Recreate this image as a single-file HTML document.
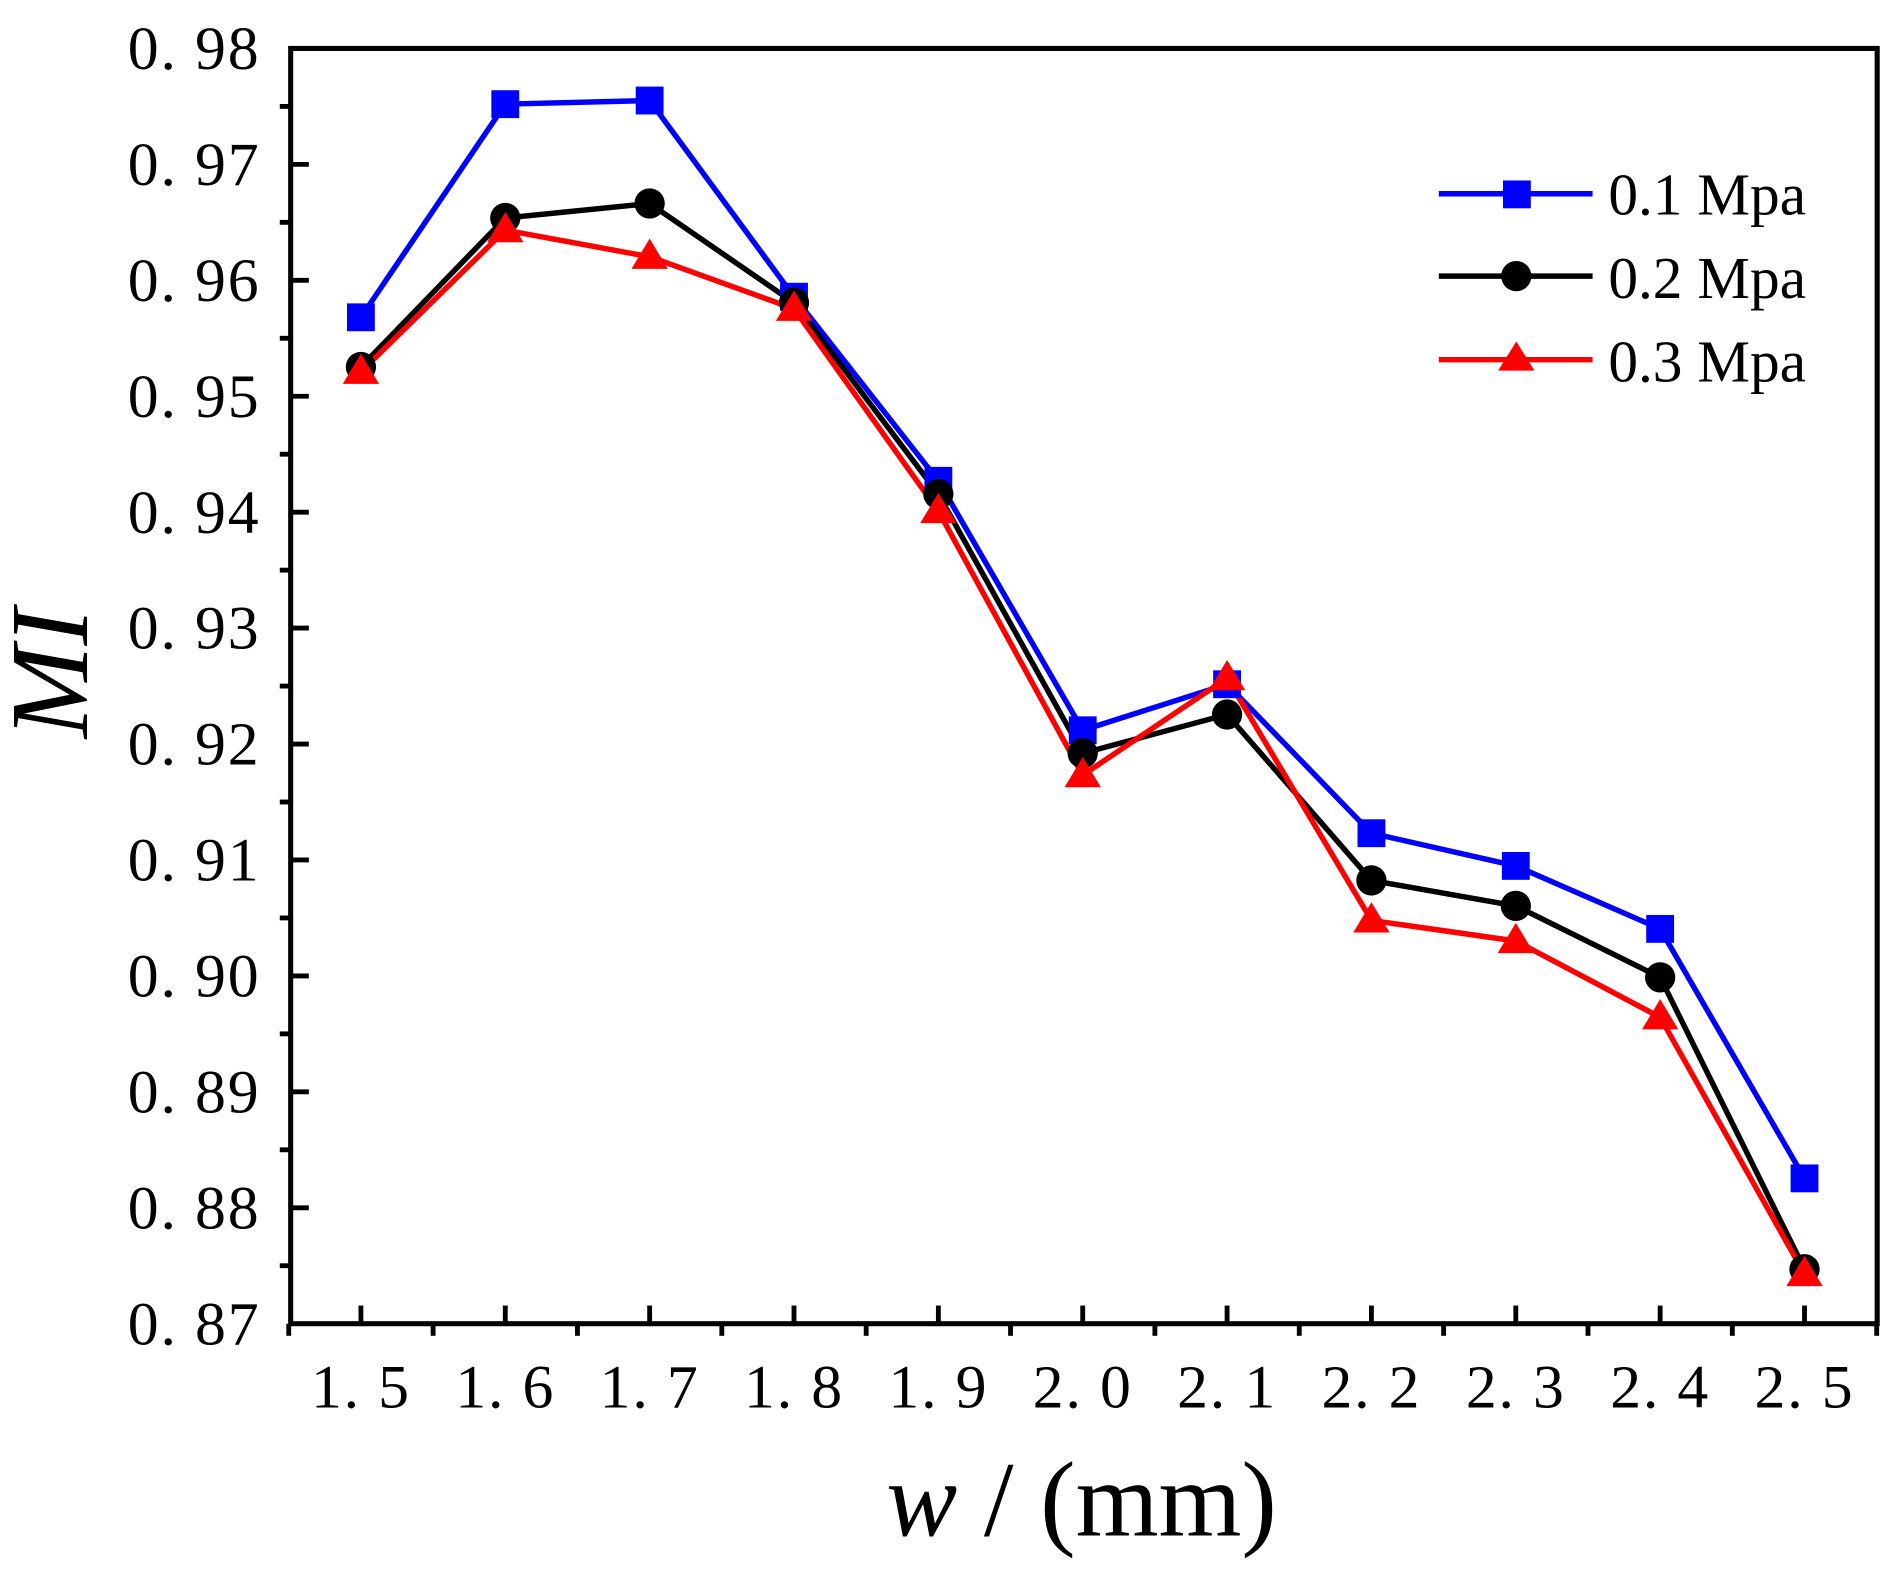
<!DOCTYPE html>
<html><head><meta charset="utf-8"><style>html,body{margin:0;padding:0;background:#fff}svg{display:block}</style></head>
<body>
<svg width="1899" height="1575" viewBox="0 0 1568 1300.5" xmlns="http://www.w3.org/2000/svg">
<rect width="1568" height="1300.5" fill="#fff"/>
<g stroke="#000" stroke-width="4.2" fill="none">
<rect x="240" y="40" width="1310" height="1053"/>
</g>
<g stroke="#000" stroke-width="4" id="ticks"></g>
<g font-family="'Liberation Serif',serif" font-size="51" fill="#000" text-anchor="end" id="ylab"></g>
<g font-family="'Liberation Serif',serif" font-size="51" fill="#000" text-anchor="middle" id="xlab"></g>
<text x="893" y="1268" font-family="'Liberation Serif',serif" font-size="88" text-anchor="middle"><tspan font-style="italic">w</tspan> / (mm)</text>
<text transform="translate(72,556) rotate(-90)" font-family="'Liberation Serif',serif" font-size="92" font-style="italic" text-anchor="middle">MI</text>
<g id="series"></g>
<g font-family="'Liberation Serif',serif" font-size="49" fill="#000">
<line x1="1188" y1="160" x2="1315" y2="160" stroke="#0000ff" stroke-width="4.5"/>
<rect x="1241" y="149" width="23" height="23" fill="#0000ff"/>
<text x="1328" y="177">0.1 Mpa</text>
<line x1="1188" y1="228" x2="1315" y2="228" stroke="#000" stroke-width="4.5"/>
<circle cx="1252" cy="228" r="12.5" fill="#000"/>
<text x="1328" y="246">0.2 Mpa</text>
<line x1="1188" y1="297" x2="1315" y2="297" stroke="#ff0000" stroke-width="4.5"/>
<polygon points="1252,282 1267,306 1237,306" fill="#ff0000"/>
<text x="1328" y="315">0.3 Mpa</text>
</g>
<script>
var ns="http://www.w3.org/2000/svg";
function el(t,a,p){var e=document.createElementNS(ns,t);for(var k in a)e.setAttribute(k,a[k]);p.appendChild(e);return e;}
var T=document.getElementById('ticks'),YL=document.getElementById('ylab'),XL=document.getElementById('xlab'),S=document.getElementById('series');
var y0=40,dy=(1093-40)/11;
for(var k=0;k<=11;k++){var y=y0+k*dy;
 if(k>0&&k<11)el('line',{x1:240,y1:y,x2:255,y2:y},T);
 var t=el('text',{x:215,y:y+17,'letter-spacing':'1.5'},YL);t.textContent='0. '+(98-k);
 if(k<11){var ym=y+dy/2;el('line',{x1:231,y1:ym,x2:240,y2:ym},T);}
}
var xs=298,dx=119.2;
for(var i=0;i<=10;i++){var x=xs+i*dx;
 el('line',{x1:x,y1:1093,x2:x,y2:1078},T);
 var t=el('text',{x:x,y:1162,'letter-spacing':'1.5'},XL);t.textContent=(1.5+i*0.1).toFixed(1).replace('.','. ');
}
for(var i=0;i<=11;i++){var x=xs-dx/2+i*dx;el('line',{x1:x,y1:1093,x2:x,y2:1103},T);}
var B=[262,86,83,245,397,603,565,688,715,767,973];
var K=[303,180,168,250,408,622,590,727,748,807,1048];
var R=[307,190,212,255,422,640,560,760,777,840,1052];
function line(d,c){var p=d.map(function(v,i){return (xs+i*dx)+','+v}).join(' ');el('polyline',{points:p,fill:'none',stroke:c,'stroke-width':4.5,'stroke-linejoin':'round'},S);}
line(B,'#0000ff');line(K,'#000');line(R,'#ff0000');
B.forEach(function(v,i){el('rect',{x:xs+i*dx-11.5,y:v-11.5,width:23,height:23,fill:'#0000ff'},S);});
K.forEach(function(v,i){el('circle',{cx:xs+i*dx,cy:v,r:12.5,fill:'#000'},S);});
R.forEach(function(v,i){var x=xs+i*dx;el('polygon',{points:x+','+(v-15)+' '+(x+15)+','+(v+10)+' '+(x-15)+','+(v+10),fill:'#ff0000'},S);});
</script>
</svg>
</body></html>
